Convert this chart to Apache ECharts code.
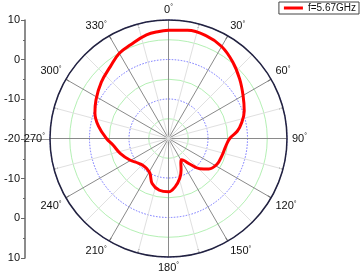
<!DOCTYPE html>
<html><head><meta charset="utf-8">
<script src="https://cdn.jsdelivr.net/npm/echarts@6/dist/echarts.min.js"></script>
<style>html,body{margin:0;padding:0;background:#fff}#c{width:363px;height:274px}</style>
</head><body><div id="c"></div>
<script>
const angles = [0,10,20,30,40,50,60,70,78,84,90,98,108,118,127,134,140,145,149,153,158,164,172,180,190,200,208,216,224,231,241,253,263,270,280,289,298,310,321,330,338,348,355,360];
const gains  = [7.4,7.8,7.7,6.9,5.3,3.5,1.8,0.4,-1.1,-2.5,-4.5,-5.4,-5.8,-6.1,-7.2,-9.0,-11.5,-13.2,-13.7,-13.1,-11.5,-9.6,-7.7,-6.5,-6.7,-7.9,-10.0,-10.6,-10.6,-10.1,-8.8,-7.2,-5.9,-4.3,-2.0,-0.3,0.8,2.2,3.4,4.9,5.6,6.8,7.2,7.4];
const seriesName = 'f=5.67GHz';
const radialMin = -20, radialMax = 10, radialStep = 10;
const angleStep = 30;

const font = 'Liberation Sans, Arial, sans-serif';
const chart = echarts.init(document.getElementById('c'));
chart.setOption({
  backgroundColor: '#fff',
  animation: false,
  textStyle: {fontFamily: font},
  legend: {
    right: 4, top: 2, padding: [1, 3, 1, 5],
    borderColor: '#444', borderWidth: 1, borderRadius: 0,
    itemWidth: 19, itemHeight: 3, icon: 'rect',
    textStyle: {fontSize: 10, color: '#111', fontFamily: font},
    data: [seriesName]
  },
  grid: {left: 25, top: 20, height: 238, width: 25},
  xAxis: {type: 'value', min: 0, max: 1, axisLine: {onZero: true, lineStyle: {color: '#999', width: 1}},
    axisTick: {show: false}, axisLabel: {show: false}, splitLine: {show: false}},
  yAxis: {type: 'value', min: radialMin - radialMax, max: radialMax - radialMin, interval: radialStep,
    axisLine: {show: true, lineStyle: {color: '#666', width: 1.5}},
    axisTick: {show: true, length: 4, lineStyle: {color: '#666'}},
    minorTick: {show: true, splitNumber: 2, length: 2, lineStyle: {color: '#666'}},
    splitLine: {show: false},
    axisLabel: {fontSize: 11, color: '#111', margin: 5, fontFamily: font,
      formatter: v => String(Math.abs(v) + radialMin)}},
  polar: {center: [168.5, 138.5], radius: 118.5},
  angleAxis: {
    type: 'value', min: 0, max: 360, interval: angleStep, startAngle: 90, clockwise: true, z: 5,
    axisLine: {lineStyle: {color: '#22223f', width: 1.5}},
    axisTick: {show: true, inside: true, length: 4, lineStyle: {color: '#333'}},
    minorTick: {show: true, splitNumber: 2, length: 4, lineStyle: {color: '#333'}},
    splitLine: {lineStyle: {color: '#8a8a8a', width: 1}},
    minorSplitLine: {show: true, lineStyle: {color: '#e0e0e0', width: 1}},
    axisLabel: {fontSize: 11, color: '#111', margin: 5, fontFamily: font,
      formatter: v => v === 360 ? '' : v + '{d|°}',
      rich: {d: {fontSize: 7, verticalAlign: 'top', color: '#111', fontFamily: font}}}
  },
  radiusAxis: {
    type: 'value', min: radialMin, max: radialMax, interval: radialStep,
    axisLine: {show: false}, axisTick: {show: false}, axisLabel: {show: false},
    splitLine: {lineStyle: {color: '#7070ff', type: [1.5, 1.5], width: 1}},
    minorTick: {show: false, splitNumber: 2},
    minorSplitLine: {show: true, lineStyle: {color: '#b4f0b4', width: 1}}
  },
  series: [{
    name: seriesName, type: 'line', coordinateSystem: 'polar', z: 10,
    showSymbol: false, smooth: 0.4,
    lineStyle: {color: '#ff0000', width: 3}, itemStyle: {color: '#ff0000'},
    data: angles.map((a, i) => [gains[i], a])
  }]
});
</script></body></html>
